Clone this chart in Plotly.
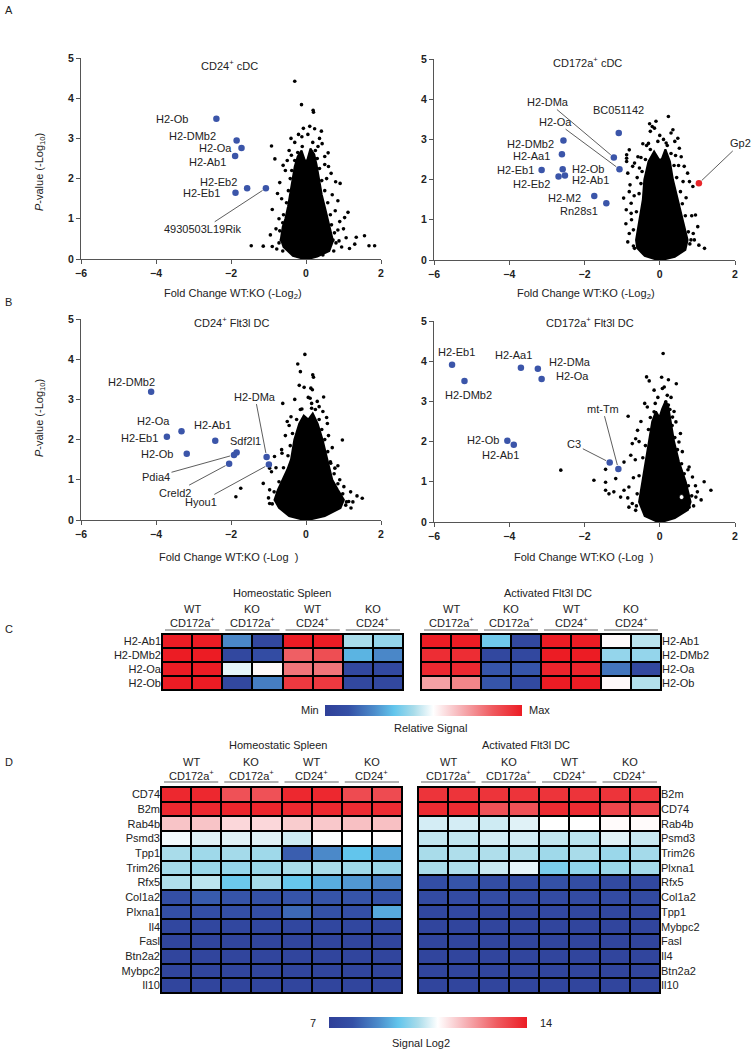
import plotly.graph_objects as go

W, H = 752, 1050
FONT = "Liberation Sans, Arial, sans-serif"
TXT = "#222222"

def fx(px):
    return px / W

def fy(py):
    return 1 - py / H

# ======================= DATA =======================
# ---- Panel A left : CD24+ cDC ----
a1_core_x = [-0.05, -0.35, -0.60, -0.67, -0.62, -0.55, -0.48, -0.42, -0.36, -0.30, -0.22, -0.12, -0.03, 0.03, 0.12, 0.22, 0.28, 0.34, 0.42, 0.50, 0.58, 0.66, 0.72, 0.62, 0.30, 0.05]
a1_core_y = [0.0, 0.08, 0.30, 0.50, 0.80, 1.00, 1.30, 1.60, 2.00, 2.30, 2.55, 2.70, 2.45, 2.45, 2.75, 2.60, 2.35, 2.00, 1.60, 1.30, 1.00, 0.75, 0.45, 0.20, 0.06, 0.0]
a1_dot_x = [-0.30, -0.12, 0.19, 0.20, -0.07, 0.23, 0.41, 0.36, -0.11, -0.92, -0.83, 0.59, 0.43, -0.61, -0.39, 0.67, 0.79, 0.91, -0.76, -0.90, 1.12, 1.03, 0.90, -0.57, -0.66, -1.46, -1.14, -0.90, 1.56, 1.34, 1.07, 1.30, 1.68, 1.83, 1.16, 0.45, 0.72, 0.85,
            -0.62, -0.72, -0.70, -0.62, -0.60, -0.52, -0.47, -0.42, -0.38, -0.30, -0.22, -0.10, 0.74, 0.80, 0.76, 0.68, 0.65, 0.58, 0.50, 0.42, 0.36, 0.30, 0.25, 0.18, 0.05, -0.78, 0.95, -0.50, 0.50,
            -0.45, -0.30, 0.32, 0.50, -0.55, 0.55, -0.65, 0.70, -0.72, 0.78, -0.80, 0.88, -0.40, 0.10, -0.20, 0.60, -0.70, 0.85, 1.00, -0.95]
a1_dot_y = [4.42, 3.84, 3.70, 3.65, 3.25, 3.24, 3.18, 3.00, 3.04, 2.81, 2.49, 2.64, 2.87, 2.33, 2.58, 2.13, 1.92, 1.88, 1.63, 1.23, 1.16, 1.03, 0.93, 0.64, 0.47, 0.33, 0.32, 0.31, 0.58, 0.54, 0.53, 0.37, 0.33, 0.33, 0.26, 0.10, 0.47, 0.72,
            0.20, 0.40, 0.70, 0.90, 1.10, 1.40, 1.70, 2.00, 2.20, 2.45, 2.65, 2.80, 0.20, 0.40, 0.65, 0.85, 1.10, 1.40, 1.70, 1.95, 2.25, 2.50, 2.70, 2.90, 3.10, 0.25, 0.30, 2.45, 2.35,
            2.70, 2.90, 2.80, 2.55, 2.20, 2.00, 1.50, 1.60, 1.00, 1.20, 0.75, 0.45, 3.00, 3.30, 3.10, 2.30, 1.90, 1.45, 0.75, 0.60]
a1_genes = ["H2-Ob", "H2-DMb2", "H2-Oa", "H2-Ab1", "H2-Eb2", "H2-Eb1", "4930503L19Rik"]
a1_fc = [-2.39, -1.85, -1.72, -1.89, -1.57, -1.88, -1.07]
a1_p = [3.49, 2.95, 2.76, 2.56, 1.76, 1.65, 1.76]

# ---- Panel A right : CD172a+ cDC ----
a2_core_x = [-0.05, -0.40, -0.60, -0.63, -0.54, -0.45, -0.41, -0.30, -0.15, -0.02, 0.05, 0.15, 0.27, 0.35, 0.48, 0.61, 0.74, 0.68, 0.40, 0.05]
a2_core_y = [0.0, 0.10, 0.30, 0.50, 1.00, 1.50, 2.00, 2.45, 2.70, 2.50, 2.50, 2.75, 2.45, 2.00, 1.50, 1.00, 0.50, 0.25, 0.08, 0.0]
a2_dot_x = [0.23, -0.27, -0.20, -0.14, -0.25, 0.35, 0.30, 0.48, -0.05, 0.17, -0.45, -0.81, -0.58, -0.88, -0.88, -0.88, -0.67, -0.72, -0.54, -0.85, 0.52, 0.57, 0.65, 0.74, 0.79, 0.88, -0.96, -0.76, -0.81, -0.79, -0.89, -0.76, 0.95, 1.01, 1.04, 1.19, -0.81, -0.67, 0.89, 0.83,
            -0.70, -0.70, -0.62, -0.55, -0.50, -0.47, -0.38, -0.25, -0.30, 0.80, 0.76, 0.68, 0.60, 0.55, 0.45, 0.38, 0.30, 0.20, 0.10,
            -0.50, -0.60, -0.68, -0.75, 0.70, 0.62, 0.50, 0.42, -0.35, 0.00, -0.10, 0.40, 0.85, 0.92, -0.85, -0.90]
a2_dot_y = [3.57, 3.39, 3.32, 3.28, 3.20, 3.24, 3.16, 3.03, 2.95, 2.91, 2.89, 2.74, 2.57, 2.62, 2.53, 2.45, 2.41, 2.33, 2.29, 2.16, 2.78, 2.57, 2.33, 2.16, 1.95, 1.83, 1.54, 1.41, 1.70, 1.87, 1.25, 1.16, 1.12, 0.83, 0.37, 0.29, 0.66, 0.29, 0.66, 0.50,
            0.35, 0.75, 1.20, 1.65, 1.90, 2.20, 2.50, 2.75, 2.90, 0.40, 0.70, 1.10, 1.40, 1.70, 2.05, 2.35, 2.65, 2.85, 3.00,
            2.55, 2.05, 1.60, 1.00, 1.55, 1.95, 2.35, 2.60, 2.85, 3.10, 3.45, 2.95, 1.10, 0.50, 0.45, 0.90]
a2_genes = ["BC051142", "H2-DMa", "H2-Oa", "H2-DMb2", "H2-Aa1", "H2-Eb1", "H2-Ob", "H2-Eb2", "H2-Ab1", "H2-M2", "Rn28s1"]
a2_fc = [-1.09, -1.22, -1.07, -2.56, -2.60, -3.14, -2.58, -2.69, -2.52, -1.74, -1.42]
a2_p = [3.16, 2.55, 2.26, 2.97, 2.63, 2.24, 2.26, 2.08, 2.10, 1.59, 1.41]
a2_up_genes = ["Gp2"]
a2_up_fc = [1.04]
a2_up_p = [1.91]

# ---- Panel B left : CD24+ Flt3l DC ----
b1_core_x = [-0.05, -0.45, -0.72, -0.84, -0.75, -0.62, -0.50, -0.40, -0.31, -0.18, -0.06, 0.06, 0.18, 0.31, 0.44, 0.57, 0.70, 0.85, 1.01, 0.92, 0.50, 0.05]
b1_core_y = [0.0, 0.10, 0.30, 0.50, 0.75, 1.00, 1.25, 1.50, 2.00, 2.40, 2.60, 2.50, 2.65, 2.40, 2.00, 1.50, 1.00, 0.75, 0.50, 0.30, 0.10, 0.0]
b1_dot_x = [-0.03, -0.22, -0.15, 0.18, 0.20, -0.18, 0.13, 0.17, 0.06, 0.11, 0.47, -0.62, -0.11, 0.15, 0.35, -0.50, -0.40, 0.57, 0.20, 0.97, -0.64, -0.84, -0.97, -0.92, -1.14, -1.74, -1.87, -0.97, 0.66, 0.77, 1.01, 1.19, 1.36, 1.50, 1.14, 1.06, -0.97, -0.75,
            -0.90, -0.85, -0.72, -0.60, -0.48, -0.42, -0.36, -0.25, -0.15, 1.08, 0.98, 0.85, 0.75, 0.65, 0.58, 0.50, 0.42, 0.35, 0.25, 0.15, 1.20,
            -0.55, -0.45, -0.65, -0.80, 0.60, 0.70, 0.85, 0.90, -1.00, 1.25, 0.30, -0.30, 0.45, -0.05, 0.55]
b1_dot_y = [4.12, 3.88, 3.69, 3.61, 3.55, 3.35, 3.28, 3.24, 3.05, 3.03, 3.06, 2.90, 2.76, 2.78, 2.82, 2.45, 2.57, 2.40, 2.53, 1.99, 1.66, 1.58, 1.29, 1.20, 0.91, 0.79, 0.58, 0.41, 1.41, 1.29, 0.83, 0.70, 0.60, 0.54, 0.46, 0.37, 0.75, 0.68,
            0.40, 0.70, 0.95, 1.30, 1.60, 1.85, 2.15, 2.50, 2.75, 0.45, 0.65, 0.90, 1.15, 1.45, 1.70, 2.00, 2.25, 2.50, 2.75, 2.90, 0.30,
            2.10, 2.35, 1.75, 1.30, 2.10, 1.80, 1.35, 1.00, 0.55, 0.45, 2.95, 3.00, 2.70, 3.30, 2.55]
b1_genes = ["H2-DMb2", "H2-Oa", "H2-Eb1", "H2-Ab1", "H2-Ob", "Sdf2l1", "Pdia4", "Creld2", "Hyou1", "H2-DMa"]
b1_fc = [-4.13, -3.32, -3.71, -2.42, -3.18, -1.85, -1.92, -2.05, -0.99, -1.05]
b1_p = [3.19, 2.21, 2.07, 1.97, 1.65, 1.68, 1.62, 1.40, 1.38, 1.57]

# ---- Panel B right : CD172a+ Flt3l DC ----
b2_core_x = [-0.05, -0.40, -0.55, -0.46, -0.37, -0.28, -0.20, -0.10, -0.01, 0.06, 0.15, 0.22, 0.29, 0.38, 0.51, 0.69, 0.82, 0.75, 0.40, 0.05]
b2_core_y = [0.0, 0.15, 0.50, 1.00, 1.50, 2.00, 2.50, 2.75, 2.60, 2.80, 3.00, 2.90, 2.50, 2.00, 1.50, 1.00, 0.50, 0.30, 0.10, 0.0]
b2_dot_x = [0.09, -0.35, -0.28, 0.23, 0.44, 0.07, 0.12, -0.15, 0.16, 0.23, -0.84, -0.33, -0.15, 0.34, 0.43, -0.59, -0.64, -0.73, 0.51, -0.77, -0.95, -1.44, -2.63, -1.75, -1.44, -1.17, -1.44, -1.35, -1.22, -1.04, -0.95, -0.82, -0.73, -0.64, -0.82, 0.78, 0.87, 1.18, 1.36, 1.00, 0.96, 0.78,
            -0.62, -0.60, -0.55, -0.45, -0.38, -0.30, -0.25, -0.12, 0.90, 0.85, 0.76, 0.65, 0.58, 0.47, 0.40, 0.33, 0.27, 0.20,
            -0.50, -0.55, -0.65, -0.70, 0.55, 0.60, 0.75, 0.95, -0.40, 0.38, 0.05, -0.05, 0.30, 1.10, -0.85]
b2_dot_y = [4.19, 3.61, 3.51, 3.54, 3.44, 3.32, 3.36, 3.28, 2.99, 2.91, 2.63, 2.86, 2.74, 2.61, 2.49, 2.28, 2.07, 1.95, 1.99, 1.66, 1.49, 1.31, 1.29, 1.04, 0.99, 1.08, 0.79, 0.70, 0.75, 0.62, 0.79, 0.87, 0.46, 0.29, 0.37, 1.37, 1.12, 1.00, 0.79, 0.75, 0.62, 0.37,
            0.40, 0.70, 1.15, 1.60, 1.90, 2.30, 2.60, 2.95, 0.40, 0.65, 0.90, 1.20, 1.45, 1.80, 2.10, 2.40, 2.80, 3.15,
            2.50, 2.00, 1.55, 1.10, 2.20, 1.75, 1.30, 0.90, 2.95, 2.75, 3.60, 3.10, 3.10, 0.55, 0.60]
b2_open_x = [0.58]
b2_open_y = [0.62]
b2_genes = ["H2-Eb1", "H2-DMb2", "H2-Aa1", "H2-DMa", "H2-Oa", "H2-Ob", "H2-Ab1", "C3", "mt-Tm"]
b2_fc = [-5.52, -5.19, -3.69, -3.24, -3.14, -4.05, -3.88, -1.33, -1.10]
b2_p = [3.91, 3.51, 3.84, 3.81, 3.56, 2.02, 1.92, 1.48, 1.32]

# ---- Panel C : relative signal (Min = 0, Max = 1) ----
c_rows = ["H2-Ab1", "H2-DMb2", "H2-Oa", "H2-Ob"]
c_homeo = [
    [1.00, 1.00, 0.24, 0.06, 1.00, 1.00, 0.45, 0.42],
    [1.00, 1.00, 0.06, 0.09, 0.84, 0.88, 0.32, 0.24],
    [1.00, 1.00, 0.52, 0.56, 0.80, 0.80, 0.06, 0.07],
    [1.00, 1.00, 0.06, 0.22, 0.93, 0.93, 0.06, 0.06],
]
c_activ = [
    [1.00, 1.00, 0.37, 0.06, 1.00, 1.00, 0.56, 0.47],
    [0.96, 0.96, 0.06, 0.06, 1.00, 1.00, 0.42, 0.42],
    [0.97, 0.97, 0.13, 0.13, 0.98, 0.98, 0.20, 0.06],
    [0.72, 0.77, 0.13, 0.08, 1.00, 1.00, 0.56, 0.46],
]

# ---- Panel D : Signal Log2 ----
d_rows_homeo = ["CD74", "B2m", "Rab4b", "Psmd3", "Tpp1", "Trim26", "Rfx5", "Col1a2", "Plxna1", "Il4", "Fasl", "Btn2a2", "Mybpc2", "Il10"]
d_homeo = [
    [13.80, 13.80, 13.10, 13.10, 13.80, 13.80, 13.20, 13.20],
    [13.80, 13.80, 13.85, 13.85, 13.80, 13.80, 13.75, 13.75],
    [11.60, 11.60, 11.35, 11.35, 11.50, 11.55, 11.65, 11.65],
    [10.75, 10.60, 10.60, 10.60, 10.45, 10.80, 10.85, 10.90],
    [10.15, 10.05, 10.10, 10.05, 8.05, 8.70, 9.45, 9.10],
    [10.10, 10.00, 9.95, 10.00, 10.15, 10.15, 10.05, 10.00],
    [10.20, 10.30, 9.55, 10.10, 9.50, 9.15, 8.90, 8.60],
    [7.80, 8.00, 7.90, 7.85, 7.90, 7.90, 7.90, 7.85],
    [7.80, 7.75, 7.80, 7.75, 8.20, 7.85, 7.80, 9.10],
    [7.40, 7.40, 7.40, 7.40, 7.40, 7.40, 7.40, 7.40],
    [7.30, 7.30, 7.30, 7.30, 7.30, 7.30, 7.30, 7.30],
    [7.30, 7.30, 7.30, 7.30, 7.30, 7.30, 7.30, 7.30],
    [7.30, 7.30, 7.30, 7.30, 7.30, 7.30, 7.30, 7.30],
    [7.30, 7.30, 7.30, 7.30, 7.30, 7.30, 7.30, 7.30],
]
d_rows_activ = ["B2m", "CD74", "Rab4b", "Psmd3", "Trim26", "Plxna1", "Rfx5", "Col1a2", "Tpp1", "Mybpc2", "Fasl", "Il4", "Btn2a2", "Il10"]
d_activ = [
    [13.60, 13.60, 13.60, 13.60, 13.60, 13.60, 13.60, 13.60],
    [13.75, 13.75, 13.10, 13.10, 13.75, 13.75, 13.30, 13.30],
    [10.50, 10.50, 10.45, 10.60, 10.85, 10.85, 10.90, 10.90],
    [10.35, 10.35, 10.50, 10.50, 10.35, 10.30, 10.60, 10.40],
    [10.15, 10.20, 10.20, 10.20, 10.05, 10.15, 10.00, 10.10],
    [10.15, 10.20, 10.40, 10.65, 9.70, 9.90, 10.00, 10.10],
    [7.75, 7.90, 7.70, 7.70, 7.85, 7.70, 7.55, 7.50],
    [7.60, 7.60, 7.65, 7.60, 7.60, 7.60, 7.60, 7.55],
    [7.40, 7.45, 7.40, 7.40, 7.45, 7.40, 7.40, 7.45],
    [7.30, 7.30, 7.30, 7.30, 7.30, 7.30, 7.30, 7.30],
    [7.30, 7.30, 7.30, 7.30, 7.30, 7.30, 7.30, 7.30],
    [7.30, 7.30, 7.30, 7.30, 7.30, 7.30, 7.30, 7.30],
    [7.30, 7.30, 7.30, 7.30, 7.30, 7.30, 7.30, 7.30],
    [7.30, 7.30, 7.30, 7.30, 7.30, 7.30, 7.30, 7.30],
]

group_top = ["WT", "KO", "WT", "KO"]
group_bottom = ["CD172a<sup>+</sup>", "CD172a<sup>+</sup>", "CD24<sup>+</sup>", "CD24<sup>+</sup>"]
x_ticks = [-6, -4, -2, 0, 2]
y_ticks = [0, 1, 2, 3, 4, 5]

# ======================= STYLE =======================
cscale = [
    [0.00, "#2f3f98"], [0.12, "#3450a6"], [0.25, "#4c8ccb"], [0.35, "#62c5ec"],
    [0.45, "#a9dcea"], [0.55, "#ffffff"], [0.68, "#f7b7bb"], [0.85, "#ef5a5f"], [1.00, "#ec1c24"],
]
BLUE = "#3b55a9"
RED = "#e8262a"

fig = go.Figure()
layout = dict(
    template="none",
    width=W, height=H, margin=dict(l=0, r=0, t=0, b=0, pad=0, autoexpand=False),
    paper_bgcolor="white", plot_bgcolor="white", showlegend=False,
    font=dict(family=FONT, size=11, color=TXT),
)
annotations = []
shapes = []


def text(xp, yp, s, size=11, xanchor="center", yanchor="middle", color=TXT, angle=0):
    annotations.append(dict(x=fx(xp), y=fy(yp), xref="paper", yref="paper", text=s, showarrow=False,
                            xanchor=xanchor, yanchor=yanchor, textangle=angle,
                            font=dict(family=FONT, size=size, color=color)))


# ---------- volcano panels ----------
vol_domains = {
    1: ((81, 381), (58, 259)),
    2: ((434, 735), (59, 260)),
    3: ((81, 381), (319, 520)),
    4: ((434, 735), (321, 522)),
}
axis_common = dict(showgrid=False, zeroline=False, showline=True, linecolor="#555555", linewidth=1.2,
                   ticks="outside", ticklen=4, tickwidth=1.2, tickcolor="#555555", automargin=False,
                   tickfont=dict(family=FONT, size=10.5, color="#222222", weight="bold"))
for i, ((x0, x1), (y0, y1)) in vol_domains.items():
    s = "" if i == 1 else str(i)
    layout["xaxis" + s] = dict(domain=[fx(x0), fx(x1)], range=[-6, 2], tickvals=x_ticks, anchor="y" + s, **axis_common)
    layout["yaxis" + s] = dict(domain=[fy(y1), fy(y0)], range=[0, 5], tickvals=y_ticks, anchor="x" + s, **axis_common)


def volcano(i, core_x, core_y, dot_x, dot_y, fc, p):
    s = "" if i == 1 else str(i)
    fig.add_trace(go.Scatter(x=core_x, y=core_y, mode="lines", fill="toself", fillcolor="black",
                             line=dict(color="black", width=2), xaxis="x" + s, yaxis="y" + s, hoverinfo="skip"))
    fig.add_trace(go.Scatter(x=dot_x, y=dot_y, mode="markers", marker=dict(color="black", size=3.6),
                             xaxis="x" + s, yaxis="y" + s))
    fig.add_trace(go.Scatter(x=fc, y=p, mode="markers", marker=dict(color=BLUE, size=6.5),
                             xaxis="x" + s, yaxis="y" + s))


def labels(i, genes, fc, p, spec):
    s = "" if i == 1 else str(i)
    xr, yr = "x" + s, "y" + s
    for g, x, y in zip(genes, fc, p):
        lx, ly, anc, lead = spec[g]
        if lead:
            annotations.append(dict(x=x, y=y, xref=xr, yref=yr, ax=lx, ay=ly, axref=xr, ayref=yr,
                                    text=g, showarrow=True, arrowhead=0, arrowwidth=0.8, arrowcolor="#333333",
                                    standoff=4, font=dict(family=FONT, size=11, color=TXT)))
        else:
            annotations.append(dict(x=lx, y=ly, xref=xr, yref=yr, text=g, showarrow=False, xanchor=anc,
                                    font=dict(family=FONT, size=11, color=TXT)))


volcano(1, a1_core_x, a1_core_y, a1_dot_x, a1_dot_y, a1_fc, a1_p)
volcano(2, a2_core_x, a2_core_y, a2_dot_x, a2_dot_y, a2_fc, a2_p)
fig.add_trace(go.Scatter(x=a2_up_fc, y=a2_up_p, mode="markers", marker=dict(color=RED, size=6.5), xaxis="x2", yaxis="y2"))
volcano(3, b1_core_x, b1_core_y, b1_dot_x, b1_dot_y, b1_fc, b1_p)
volcano(4, b2_core_x, b2_core_y, b2_dot_x, b2_dot_y, b2_fc, b2_p)
fig.add_trace(go.Scatter(x=b2_open_x, y=b2_open_y, mode="markers",
                         marker=dict(color="white", size=5, line=dict(color="black", width=1)), xaxis="x4", yaxis="y4"))

labels(1, a1_genes, a1_fc, a1_p, {
    "H2-Ob": (-3.10, 3.48, "right", False),
    "H2-DMb2": (-2.34, 3.05, "right", False),
    "H2-Oa": (-1.92, 2.76, "right", False),
    "H2-Ab1": (-2.08, 2.41, "right", False),
    "H2-Eb2": (-1.79, 1.91, "right", False),
    "H2-Eb1": (-2.24, 1.63, "right", False),
    "4930503L19Rik": (-2.74, 0.74, "center", True),
})
labels(2, a2_genes + a2_up_genes, a2_fc + a2_up_fc, a2_p + a2_up_p, {
    "BC051142": (-1.10, 3.74, "center", False),
    "H2-DMa": (-2.97, 3.93, "center", True),
    "H2-Oa": (-2.77, 3.44, "center", True),
    "H2-DMb2": (-2.75, 2.89, "right", False),
    "H2-Aa1": (-2.87, 2.59, "right", False),
    "H2-Eb1": (-3.29, 2.25, "right", False),
    "H2-Ob": (-2.38, 2.26, "left", False),
    "H2-Eb2": (-3.40, 1.89, "center", False),
    "H2-Ab1": (-2.38, 1.99, "left", False),
    "H2-M2": (-2.03, 1.54, "right", False),
    "Rn28s1": (-1.60, 1.23, "right", False),
    "Gp2": (2.15, 2.90, "center", True),
})
labels(3, b1_genes, b1_fc, b1_p, {
    "H2-DMb2": (-4.66, 3.44, "center", False),
    "H2-Oa": (-4.07, 2.46, "center", False),
    "H2-Eb1": (-3.89, 2.05, "right", False),
    "H2-Ab1": (-2.49, 2.36, "center", False),
    "H2-Ob": (-3.49, 1.63, "right", False),
    "Sdf2l1": (-1.61, 1.97, "center", False),
    "Pdia4": (-4.00, 1.08, "center", True),
    "Creld2": (-3.49, 0.68, "center", True),
    "Hyou1": (-2.81, 0.45, "center", True),
    "H2-DMa": (-1.36, 3.07, "center", True),
})
labels(4, b2_genes, b2_fc, b2_p, {
    "H2-Eb1": (-5.39, 4.23, "center", False),
    "H2-DMb2": (-5.09, 3.15, "center", False),
    "H2-Aa1": (-3.88, 4.15, "center", False),
    "H2-DMa": (-2.99, 3.98, "left", False),
    "H2-Oa": (-2.81, 3.62, "left", False),
    "H2-Ob": (-4.23, 2.05, "right", False),
    "H2-Ab1": (-4.23, 1.66, "center", False),
    "C3": (-2.27, 1.93, "center", True),
    "mt-Tm": (-1.52, 2.82, "center", True),
})

# volcano titles / axis titles
text(229, 65, "CD24<sup>+</sup> cDC")
text(587, 62, "CD172a<sup>+</sup> cDC")
text(231, 322, "CD24<sup>+</sup> Flt3l DC")
text(590, 322, "CD172a<sup>+</sup> Flt3l DC")
text(233, 294, "Fold Change WT:KO (-Log<sub>2</sub>)")
text(586, 294, "Fold Change WT:KO (-Log<sub>2</sub>)")
text(228, 557, "Fold Change WT:KO (-Log  )")
text(583, 557, "Fold Change WT:KO (-Log  )")
text(40, 172, "<i>P</i>-value (-Log<sub>10</sub>)", angle=-90)
text(40, 418, "<i>P</i>-value (-Log<sub>10</sub>)", angle=-90)

# panel letters
text(3, 10, "A", xanchor="left")
text(3, 302, "B", xanchor="left")
text(3, 629, "C", xanchor="left")
text(3, 762, "D", xanchor="left")

# ---------- heatmaps ----------
hm = [
    (5, (162, 403), (634, 690), c_rows, c_homeo, 0, 1, "left"),
    (6, (421, 661), (634, 690), c_rows, c_activ, 0, 1, "right"),
    (7, (161, 402), (787, 993), d_rows_homeo, d_homeo, 7, 14, "left"),
    (8, (418, 660), (787, 993), d_rows_activ, d_activ, 7, 14, "right"),
]
cbars = {
    5: dict(orientation="h", x=fx((325 + 522) / 2), xanchor="center", y=fy(705), yanchor="top",
            len=197, lenmode="pixels", thickness=11, thicknessmode="pixels",
            showticklabels=False, ticks="", outlinewidth=0, xpad=0, ypad=0),
    7: dict(orientation="h", x=fx((329 + 527) / 2), xanchor="center", y=fy(1017), yanchor="top",
            len=198, lenmode="pixels", thickness=11, thicknessmode="pixels",
            showticklabels=False, ticks="", outlinewidth=0, xpad=0, ypad=0),
}
for idx, (x0, x1), (y0, y1), rows, z, zmin, zmax, side in hm:
    s = str(idx)
    layout["xaxis" + s] = dict(domain=[fx(x0), fx(x1)], range=[-0.5, 7.5], showgrid=False, zeroline=False,
                               showticklabels=False, ticks="", showline=False, anchor="y" + s, automargin=False)
    layout["yaxis" + s] = dict(domain=[fy(y1), fy(y0)], showgrid=False, zeroline=False, autorange="reversed",
                               side=side, ticks="", showline=False, anchor="x" + s, type="category",
                               automargin=False, tickfont=dict(family=FONT, size=11, color=TXT))
    fig.add_trace(go.Heatmap(z=z, x=list(range(8)), y=rows, zmin=zmin, zmax=zmax, colorscale=cscale,
                             xgap=2, ygap=2, xaxis="x" + s, yaxis="y" + s,
                             showscale=idx in cbars, colorbar=cbars.get(idx)))
    shapes.append(dict(type="rect", xref="x%s domain" % s, yref="y%s domain" % s, x0=0, x1=1, y0=0, y1=1,
                       fillcolor="black", line=dict(color="black", width=2), layer="below"))


def group_headers(x0, x1, y_top, y_bot, y_line):
    cw = (x1 - x0) / 8
    for g in range(4):
        gx0 = x0 + 2 * g * cw
        gx1 = gx0 + 2 * cw
        cx = (gx0 + gx1) / 2
        text(cx, y_top, group_top[g])
        text(cx, y_bot, group_bottom[g])
        shapes.append(dict(type="line", xref="paper", yref="paper", x0=fx(gx0 + 3), x1=fx(gx1 - 3),
                           y0=fy(y_line), y1=fy(y_line), line=dict(color="#9a9a9a", width=1.5)))


text(282, 593, "Homeostatic Spleen")
text(548, 593, "Activated Flt3l DC")
group_headers(162, 403, 609, 622, 630)
group_headers(421, 661, 609, 622, 630)
text(321, 710, "Min", xanchor="right")
text(527, 710, "Max", xanchor="left")
text(430, 728, "Relative Signal")

text(278, 745, "Homeostatic Spleen")
text(526, 745, "Activated Flt3l DC")
group_headers(161, 402, 762, 775, 782)
group_headers(418, 660, 762, 775, 782)
text(313, 1023, "7", xanchor="center")
text(546, 1023, "14", xanchor="center")
text(421, 1043, "Signal Log2")

layout["annotations"] = annotations
layout["shapes"] = shapes
fig.update_layout(**layout)
fig.write_html("out.html", config={"displayModeBar": False},
               post_script="document.body.style.margin='0px';document.body.style.padding='0px';"
                           "document.documentElement.style.overflow='hidden';")
